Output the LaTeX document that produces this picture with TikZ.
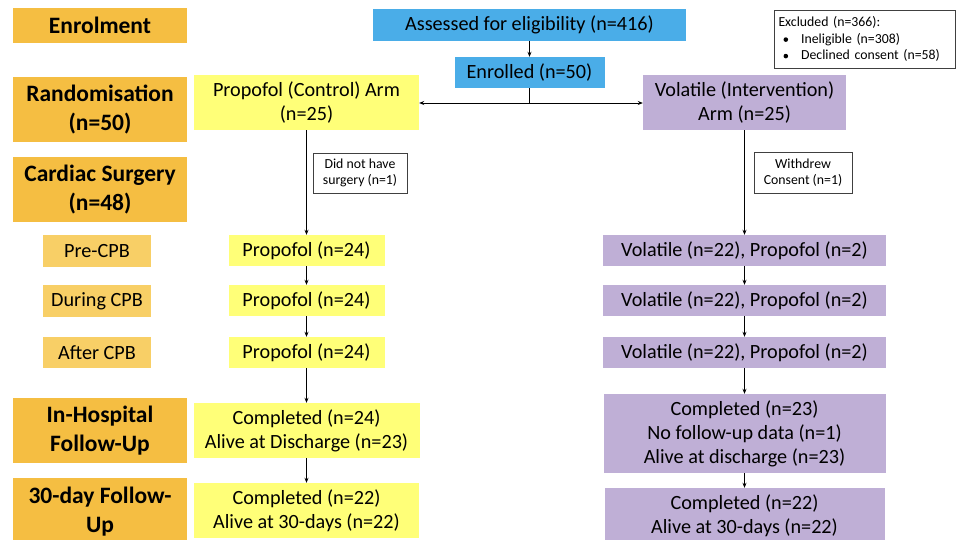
\documentclass[tikz,border=0pt]{standalone}
\usepackage{fontspec}
\setmainfont{Carlito}
\usetikzlibrary{arrows.meta}
\definecolor{hdr}{RGB}{245,190,66}
\definecolor{subhdr}{RGB}{248,207,102}
\definecolor{ylw}{RGB}{255,255,120}
\definecolor{prp}{RGB}{191,175,214}
\definecolor{blu}{RGB}{74,173,232}
\tikzset{
  x=1pt,y=-1pt,
  base/.style={inner sep=0pt,align=center,font=\fontsize{20.2}{24}\selectfont},
  hbox/.style={base,fill=hdr,minimum width=174pt,font=\fontsize{23.5}{29}\selectfont\bfseries},
  sbox/.style={base,fill=subhdr,minimum width=108pt},
  ybox/.style={base,fill=ylw},
  pbox/.style={base,fill=prp},
  bbox/.style={base,fill=blu},
  note/.style={draw=black!75,line width=0.6pt,inner sep=0pt,align=center,font=\fontsize{13.8}{16.5}\selectfont},
  arr/.style={line width=0.7pt,-{Stealth[length=5pt,width=4pt]}},
  ln/.style={line width=0.7pt}
}
\newcommand{\smbul}{\raisebox{1.2pt}{\tikz\fill (0,0) circle (2.3pt);}}
\begin{document}
\begin{tikzpicture}
\useasboundingbox (0,0) rectangle (956,539);
% left headers
\node[hbox,minimum height=35pt] (enrol) at (100,25.5) {Enrolment};
\node[hbox,minimum height=65pt] (rand) at (100,109.5) {Randomisation\\(n=50)};
\node[hbox,minimum height=65pt] (card) at (100,189.5) {Cardiac Surgery\\(n=48)};
\node[sbox,minimum height=32pt] (pre) at (97,251) {Pre-CPB};
\node[sbox,minimum height=32pt] (during) at (97,301) {During CPB};
\node[sbox,minimum height=31pt] (after) at (97,352.5) {After CPB};
\node[hbox,minimum height=65pt] (inhosp) at (100,430.5) {In-Hospital\\Follow-Up};
\node[hbox,minimum height=68pt] (thirty) at (100,512) {30-day Follow-\\Up};
% top
\node[bbox,minimum width=313pt,minimum height=32pt] (assess) at (529.5,25) {Assessed for eligibility (n=416)};
\node[bbox,minimum width=150pt,minimum height=31pt] (enrolled) at (529.5,72.5) {Enrolled (n=50)};
\node[note,align=left,minimum width=181pt,minimum height=58pt,text width=172pt] (excl) at (864.5,39)
  {Excluded (n=366):\\\hspace*{5pt}\smbul\hspace{13pt}Ineligible (n=308)\\\hspace*{5pt}\smbul\hspace{13pt}Declined consent (n=58)};
% arms
\node[ybox,minimum width=225pt,minimum height=55pt] (parm) at (306.5,102.5) {Propofol (Control) Arm\\(n=25)};
\node[pbox,minimum width=203pt,minimum height=55pt] (varm) at (744.5,102.5) {Volatile (Intervention)\\Arm (n=25)};
\coordinate (split) at (529.5,103);
% notes
\node[note,minimum width=94pt,minimum height=40pt] (didnot) at (360,173) {Did not have\\surgery (n=1)};
\node[note,minimum width=98pt,minimum height=41pt] (withdrew) at (803,172.5) {Withdrew\\Consent (n=1)};
% propofol column
\node[ybox,minimum width=156pt,minimum height=31pt] (p1) at (306.5,250.5) {Propofol (n=24)};
\node[ybox,minimum width=156pt,minimum height=31pt] (p2) at (306.5,300.5) {Propofol (n=24)};
\node[ybox,minimum width=156pt,minimum height=31pt] (p3) at (306.5,352.5) {Propofol (n=24)};
\node[ybox,minimum width=226pt,minimum height=55pt] (pc) at (306.5,430.5) {Completed (n=24)\\Alive at Discharge (n=23)};
\node[ybox,minimum width=225pt,minimum height=55pt] (p30) at (306.5,510.5) {Completed (n=22)\\Alive at 30-days (n=22)};
% volatile column
\node[pbox,minimum width=283pt,minimum height=31pt] (v1) at (744.5,250.5) {Volatile (n=22), Propofol (n=2)};
\node[pbox,minimum width=283pt,minimum height=31pt] (v2) at (744.5,300.5) {Volatile (n=22), Propofol (n=2)};
\node[pbox,minimum width=283pt,minimum height=31pt] (v3) at (744.5,352.5) {Volatile (n=22), Propofol (n=2)};
\node[pbox,minimum width=282pt,minimum height=79pt] (vc) at (744.5,433.5) {Completed (n=23)\\No follow-up data (n=1)\\Alive at discharge (n=23)};
\node[pbox,minimum width=280pt,minimum height=56pt] (v30) at (744.5,516) {Completed (n=22)\\Alive at 30-days (n=22)};
% connectors
\draw[arr] (assess.south) -- (enrolled.north);
\draw[ln] (enrolled.south) -- (split);
\draw[arr] (split) -- (split -| parm.east);
\draw[arr] (split) -- (split -| varm.west);
\draw[arr] (parm.south) -- (p1.north);
\draw[arr] (p1.south) -- (p2.north);
\draw[arr] (p2.south) -- (p3.north);
\draw[arr] (p3.south) -- (pc.north);
\draw[arr] (pc.south) -- (p30.north);
\draw[arr] (varm.south) -- (v1.north);
\draw[arr] (v1.south) -- (v2.north);
\draw[arr] (v2.south) -- (v3.north);
\draw[arr] (v3.south) -- (vc.north);
\draw[arr] (vc.south) -- (v30.north);
\end{tikzpicture}
\end{document}
